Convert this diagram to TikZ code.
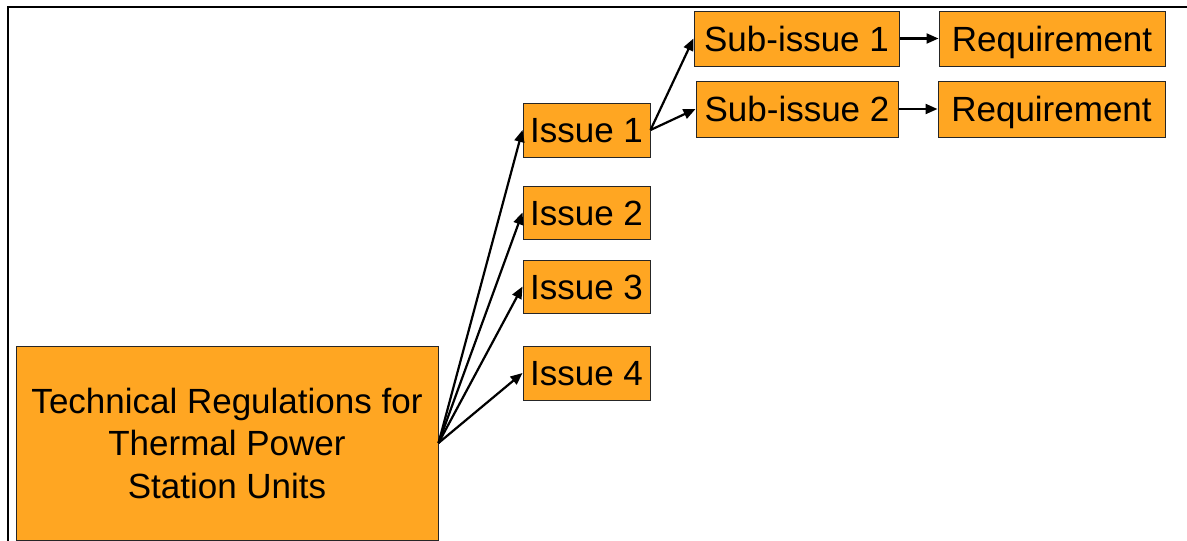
\documentclass[tikz,border=0pt]{standalone}
\usepackage{fontspec}
\setmainfont{Liberation Sans}
\usetikzlibrary{arrows.meta}
\definecolor{boxfill}{RGB}{255,166,34}
\tikzset{
  box/.style={draw=black!85, line width=1pt, fill=boxfill, inner sep=0pt,
    font=\fontsize{35}{42.5}\selectfont, align=center},
  onebox/.style={box, text height=25.5pt, text depth=0pt},
  link/.style={line width=2.2pt, -{Triangle[length=12pt,width=10pt]}},
  frame/.style={line width=2.6pt}
}
\begin{document}
\begin{tikzpicture}[x=1pt,y=-1pt]
  \useasboundingbox[fill=white] (0,0) rectangle (1187,541);
  % outer frame: top and left rules
  \coordinate (ftl) at (8,7);
  \coordinate (ftr) at (1187,7);
  \coordinate (fbl) at (8,541);
  \draw[frame] (ftr) -- (ftl) -- (fbl);
  % root
  \node[box, minimum width=422pt, minimum height=194pt] (root) at (227,443)
    {Technical Regulations for\\Thermal Power\\Station Units};
  % issues
  \node[onebox, minimum width=127pt, minimum height=54pt] (i1) at (586.5,130) {Issue 1};
  \node[onebox, minimum width=127pt, minimum height=53pt] (i2) at (586.5,212.5) {Issue 2};
  \node[onebox, minimum width=127pt, minimum height=53pt] (i3) at (586.5,286.5) {Issue 3};
  \node[onebox, minimum width=127pt, minimum height=54pt] (i4) at (586.5,373) {Issue 4};
  % sub-issues
  \node[onebox, minimum width=205pt, minimum height=55pt] (s1) at (796.5,38.5) {Sub-issue 1};
  \node[onebox, minimum width=202pt, minimum height=56pt] (s2) at (797,109) {Sub-issue 2};
  % requirements
  \node[onebox, minimum width=226pt, minimum height=55pt] (r1) at (1052,38.5) {Requirement};
  \node[onebox, minimum width=227pt, minimum height=56pt] (r2) at (1051.5,109) {Requirement};
  % connectors
  \foreach \t in {i1,i2,i3,i4} \draw[link] (root.east) -- (\t.west);
  \draw[link] (i1.east) -- (s1.west);
  \draw[link] (i1.east) -- (s2.west);
  \draw[link] (s1.east) -- (r1.west);
  \draw[link] (s2.east) -- (r2.west);
\end{tikzpicture}
\end{document}
